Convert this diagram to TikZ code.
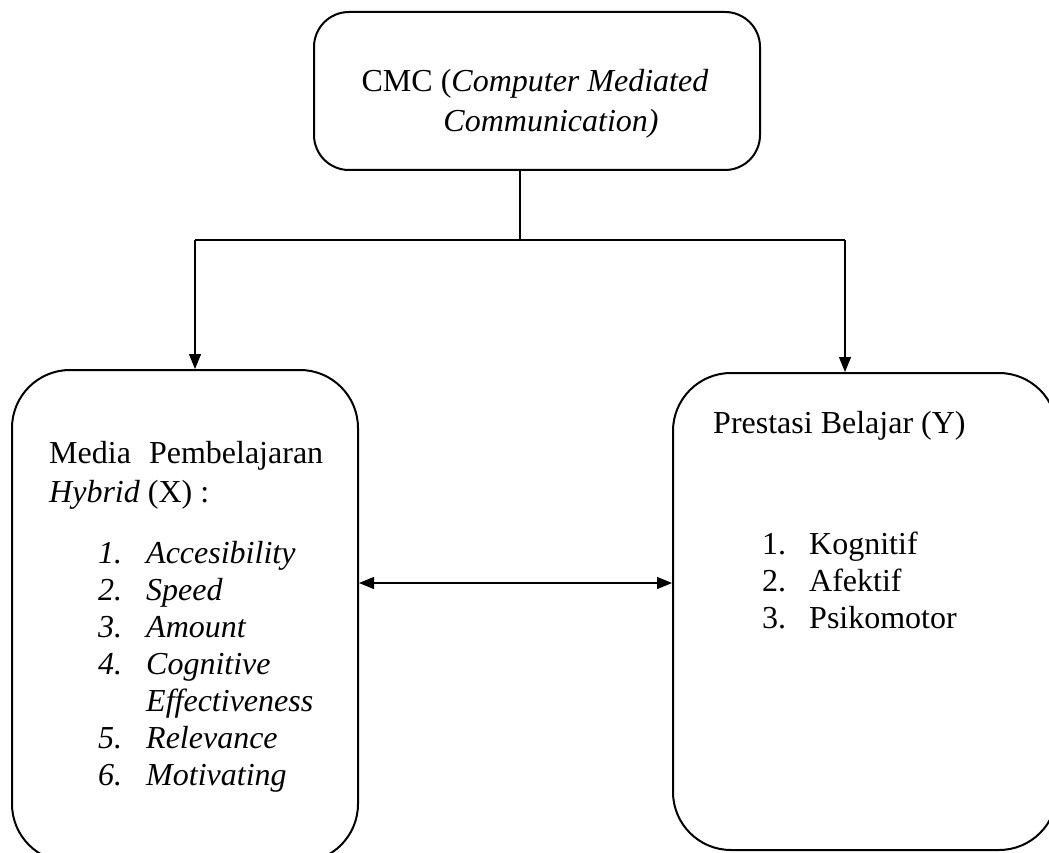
\documentclass[tikz,border=0pt]{standalone}
\usepackage{fontspec}
\setmainfont{Liberation Serif}
\usetikzlibrary{arrows.meta}
\begin{document}
\begin{tikzpicture}[x=1pt,y=-1pt,
  box/.style={draw,line width=2pt,rounded corners=#1,inner sep=0pt},
  txt/.style={anchor=base west,inner sep=0pt,font=\fontsize{32}{38}\selectfont},
  ctxt/.style={anchor=base,inner sep=0pt,font=\fontsize{32}{38}\selectfont},
  conn/.style={line width=1.2pt},
  arr/.style={line width=1.2pt,-{Triangle[length=15pt,width=12pt]}},
  darr/.style={line width=1.2pt,{Triangle[length=15pt,width=12pt]}-{Triangle[length=15pt,width=12pt]}}]
\useasboundingbox (0,0) rectangle (1049,853);
% boxes
\node[box=35pt,minimum width=446pt,minimum height=158pt] (top) at (537,91) {};
\node[box=58pt,minimum width=346pt,minimum height=492pt] (left) at (185,616) {};
\node[box=58pt,minimum width=384pt,minimum height=477pt] (right) at (865,611.5) {};
% top text
\node[ctxt] (t1) at (535,92) {CMC (\textit{Computer Mediated}};
\node[ctxt] (t2) at (551,132) {\textit{Communication)}};
% left text
\node[txt] (l1) at (49,463) {\makebox[274pt][s]{Media Pembelajaran}};
\node[txt] (l2) at (49,502) {\textit{Hybrid} (X) :};
\node[txt] (n1) at (98,563) {\textit{1.}};
\node[txt] (i1) at (146,563) {\textit{Accesibility}};
\node[txt] (n2) at (98,600) {\textit{2.}};
\node[txt] (i2) at (146,600) {\textit{Speed}};
\node[txt] (n3) at (98,637) {\textit{3.}};
\node[txt] (i3) at (146,637) {\textit{Amount}};
\node[txt] (n4) at (98,674) {\textit{4.}};
\node[txt] (i4) at (146,674) {\textit{Cognitive}};
\node[txt] (i4b) at (146,711) {\textit{Effectiveness}};
\node[txt] (n5) at (98,748) {\textit{5.}};
\node[txt] (i5) at (146,748) {\textit{Relevance}};
\node[txt] (n6) at (98,785) {\textit{6.}};
\node[txt] (i6) at (146,785) {\textit{Motivating}};
% right text
\node[txt] (r1) at (713,433) {Prestasi Belajar (Y)};
\node[txt] (m1) at (762,554) {1.};
\node[txt] (k1) at (809,554) {Kognitif};
\node[txt] (m2) at (762,591) {2.};
\node[txt] (k2) at (809,591) {Afektif};
\node[txt] (m3) at (762,628) {3.};
\node[txt] (k3) at (809,628) {Psikomotor};
% connectors
\coordinate (split) at (520,240);
\coordinate (bl) at (195,240);
\coordinate (br) at (845,240);
\coordinate (mid) at (0,583);
\draw[conn] (top.south -| split) -- (split);
\draw[conn] (bl) -- (br);
\draw[arr] (bl) -- (bl |- left.north);
\draw[arr] (br) -- (br |- right.north);
\draw[darr] (left.east |- mid) -- (right.west |- mid);
\end{tikzpicture}
\end{document}
